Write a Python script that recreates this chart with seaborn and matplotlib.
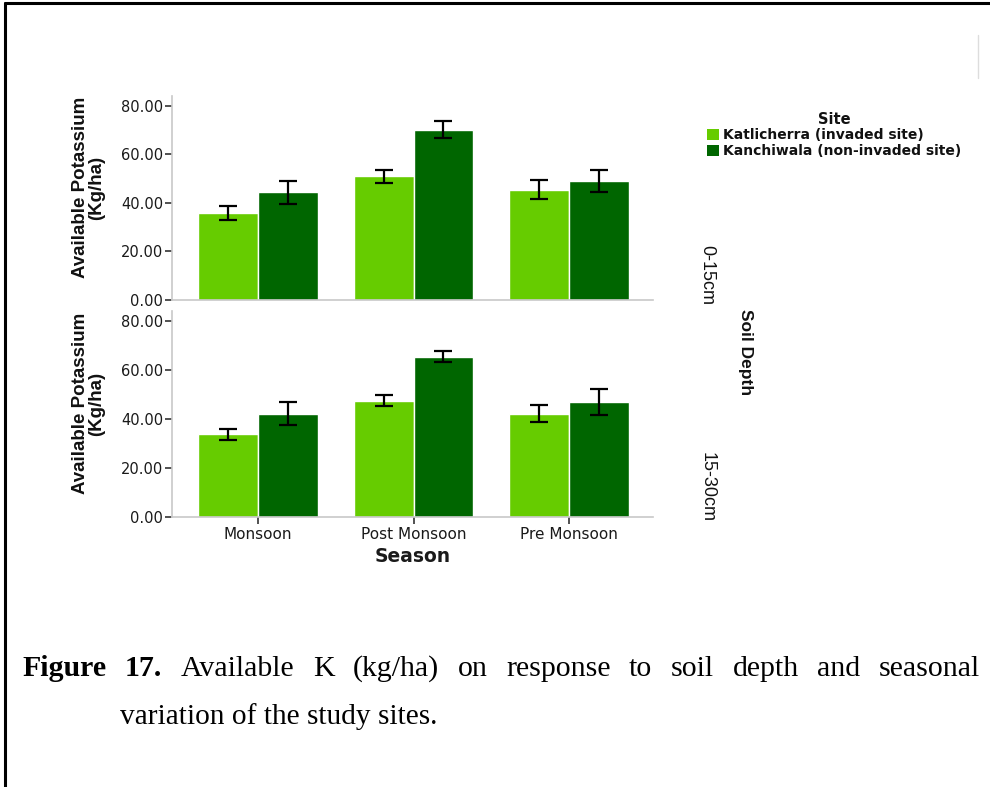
import numpy as np
import pandas as pd
import matplotlib
matplotlib.use("Agg")
import matplotlib.pyplot as plt
from matplotlib import font_manager
from matplotlib.lines import Line2D
from matplotlib.patches import Patch
import seaborn as sns

# data
seasons = ["Monsoon", "Post Monsoon", "Pre Monsoon"]
sites = ["Katlicherra (invaded site)", "Kanchiwala (non-invaded site)"]
depths = ["0-15cm", "15-30cm"]

k_top_invaded = [36.0, 50.9, 45.4]
k_top_noninv = [44.4, 70.1, 49.0]
err_top_invaded = [2.9, 2.6, 3.9]
err_top_noninv = [4.8, 3.5, 4.4]

k_bot_invaded = [33.8, 47.5, 42.2]
k_bot_noninv = [42.3, 65.6, 47.0]
err_bot_invaded = [2.2, 2.3, 3.4]
err_bot_noninv = [4.7, 2.1, 5.2]

y_ticks = [0, 20, 40, 60, 80]
colors = ["#66CC00", "#006600"]

W, H = 990, 787

sns.set_theme(style="white")
plt.rcParams["font.family"] = ["DejaVu Sans"]
plt.rcParams["text.color"] = "#111111"
plt.rcParams["axes.labelcolor"] = "#111111"

names = {f.name for f in font_manager.fontManager.ttflist}
narrow = "Liberation Sans Narrow" if "Liberation Sans Narrow" in names else "Liberation Sans"


def fx(x):
    return x / W


def fy(y):
    return 1 - y / H


def build_df(inv, non, e_inv, e_non):
    return pd.DataFrame({
        "Season": seasons * 2,
        "Site": [sites[0]] * 3 + [sites[1]] * 3,
        "K": inv + non,
        "err": e_inv + e_non,
    })


fig = plt.figure(figsize=(9.9, 7.87), dpi=100)

panels = [
    (build_df(k_top_invaded, k_top_noninv, err_top_invaded, err_top_noninv), (95.5, 300)),
    (build_df(k_bot_invaded, k_bot_noninv, err_bot_invaded, err_bot_noninv), (311, 517)),
]

axes = []
for i, (df, (ytop, ybot)) in enumerate(panels):
    ax = fig.add_axes([fx(171.6), fy(ybot), (653.4 - 171.6) / W, (ybot - ytop) / H])
    sns.barplot(data=df, x="Season", y="K", hue="Site", order=seasons,
                hue_order=sites, palette=colors, errorbar=None, width=0.77,
                edgecolor="white", linewidth=1, saturation=1, legend=False, ax=ax)
    bar_groups = list(ax.containers)[:2]
    for j, cont in enumerate(bar_groups):
        sub = df[df["Site"] == sites[j]].set_index("Season").loc[seasons]
        xs = [b.get_x() + b.get_width() / 2 for b in cont]
        ax.errorbar(xs, sub["K"], yerr=sub["err"], fmt="none", ecolor="black",
                    elinewidth=1.6, capsize=6.5, capthick=1.6, zorder=5)
    ax.set_xlim(-0.556, 2.543)
    ax.set_ylim(0, 84.2)
    ax.set_yticks(y_ticks)
    ax.set_yticklabels([f"{v:.2f}" for v in y_ticks], fontsize=10.5, color="#1a1a1a")
    for s in ["top", "right"]:
        ax.spines[s].set_visible(False)
    for s in ["left", "bottom"]:
        ax.spines[s].set_color("#c8c8c8")
        ax.spines[s].set_linewidth(1.2)
    ax.tick_params(axis="y", left=True, length=5, width=1.2, color="#333333", pad=1)
    ax.set_ylabel("Available Potassium\n(Kg/ha)", fontsize=13.5, fontweight="bold",
                  family=narrow, linespacing=0.95)
    ax.set_xlabel("")
    if i == 0:
        ax.tick_params(axis="x", bottom=False, labelbottom=False)
    else:
        ax.tick_params(axis="x", bottom=True, length=5, width=1.2, color="#333333",
                       labelsize=11, labelcolor="#1a1a1a", pad=2)
    ax.yaxis.set_label_coords(-0.137, 0.55)
    axes.append(ax)

fig.text(fx(413), fy(556), "Season", ha="center", va="center", fontsize=13.5,
         fontweight="bold", color="#1a1a1a")

# facet row labels
fig.text(fx(707), fy(275), depths[0], rotation=270, ha="center", va="center",
         fontsize=13, family=narrow)
fig.text(fx(707), fy(487), depths[1], rotation=270, ha="center", va="center",
         fontsize=13, family=narrow)
fig.text(fx(745), fy(352), "Soil Depth", rotation=270, ha="center", va="center",
         fontsize=12.5, fontweight="bold", family=narrow)

# legend
handles = [Patch(facecolor=c, edgecolor="none") for c in colors]
leg = fig.legend(handles, sites, loc="upper left", bbox_to_anchor=(fx(697), fy(102)),
                 frameon=False, title="Site", prop={"weight": "bold", "size": 10},
                 handlelength=0.85, handleheight=0.85, handletextpad=0.35,
                 labelspacing=0.12, borderpad=0.2)
leg.get_title().set_fontweight("bold")
leg.get_title().set_fontsize(10.5)
leg._legend_box.align = "center"

# border lines
fig.add_artist(Line2D([fx(5), fx(5)], [fy(3), 0], color="black", lw=2.2))
fig.add_artist(Line2D([fx(5), 1], [fy(3), fy(3)], color="black", lw=2.2))
fig.add_artist(Line2D([fx(978), fx(978)], [fy(35), fy(78)], color="#dddddd", lw=1))

# caption, justified first line
renderer = fig.canvas.get_renderer()
line1 = [("Figure", "bold"), ("17.", "bold")] + [
    (w, "normal") for w in "Available K (kg/ha) on response to soil depth and seasonal".split()]
texts = []
for w, wt in line1:
    t = fig.text(0, fy(676), w, fontsize=21.5, family="Liberation Serif", fontweight=wt,
                 va="baseline", ha="left", color="black")
    texts.append(t)
widths = [t.get_window_extent(renderer).width for t in texts]
gap = (980 - 22 - sum(widths)) / (len(texts) - 1)
x = 22
for t, wd in zip(texts, widths):
    t.set_x(fx(x))
    x += wd + gap

fig.text(fx(120), fy(724), "variation of the study sites.", fontsize=21.2,
         family="Liberation Serif", va="baseline", ha="left", color="black")

fig.savefig("out.png", dpi=100)
